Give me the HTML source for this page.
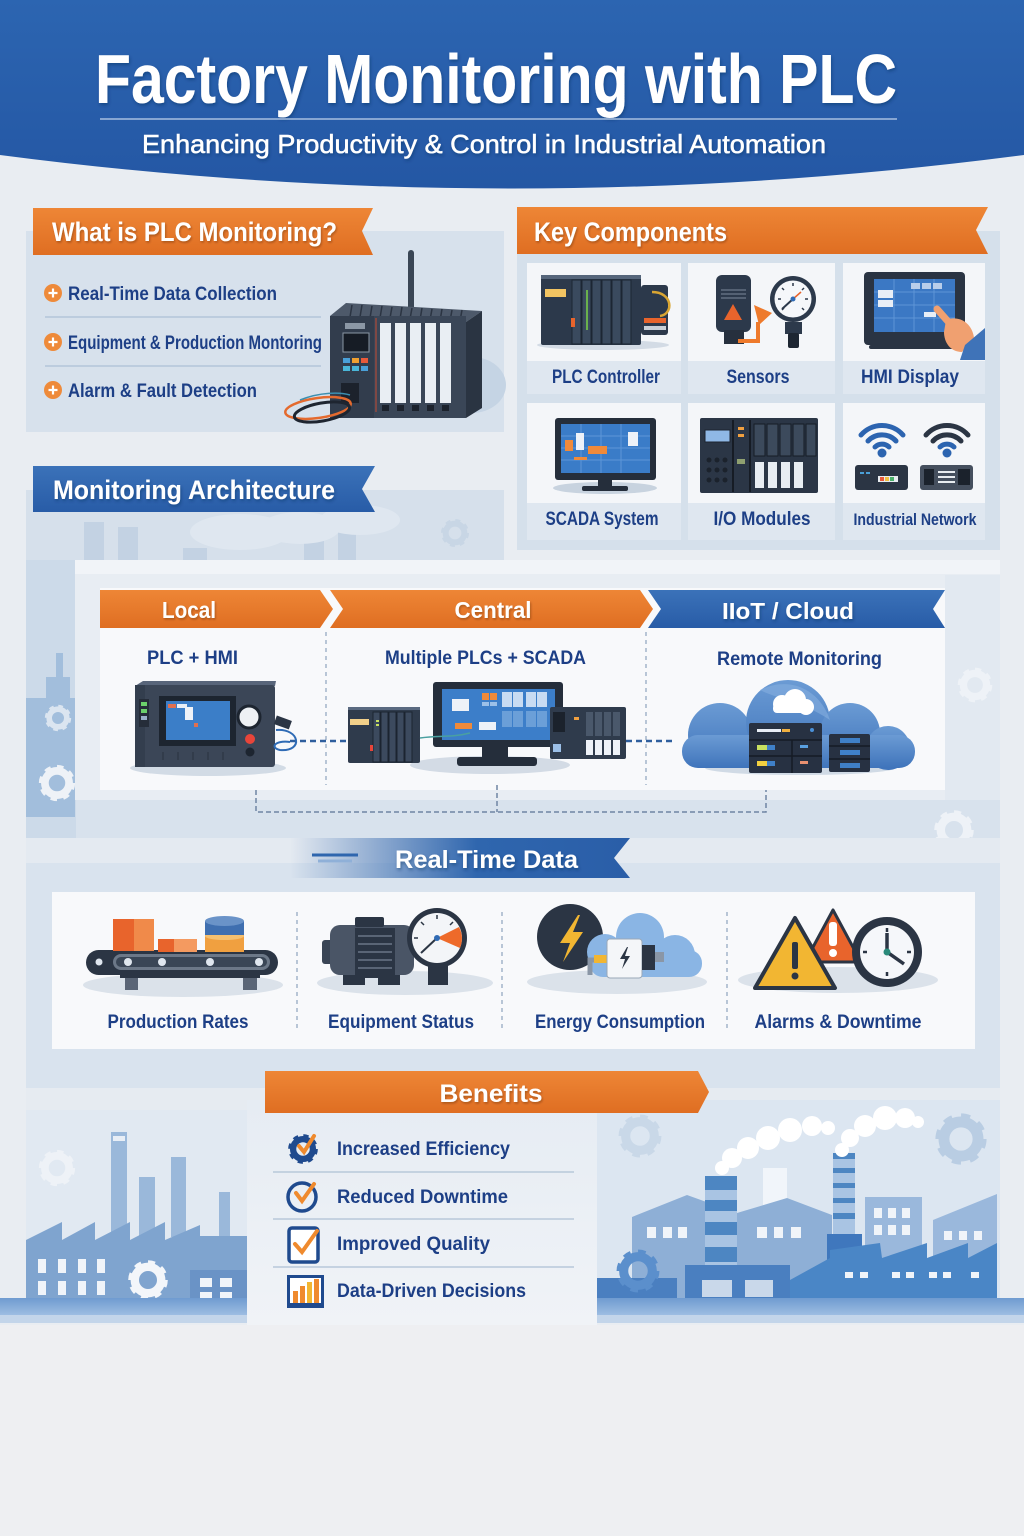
<!DOCTYPE html>
<html><head><meta charset="utf-8"><style>
html,body{margin:0;padding:0;background:#eeeff2;}
svg{display:block;}
text{font-family:"Liberation Sans",sans-serif;font-weight:bold;}
</style></head><body>
<svg width="1024" height="1536" viewBox="0 0 1024 1536" xmlns="http://www.w3.org/2000/svg" xmlns:xlink="http://www.w3.org/1999/xlink">
<defs>
<linearGradient id="hdr" x1="0" y1="0" x2="0" y2="1"><stop offset="0" stop-color="#2c65b1"/><stop offset="1" stop-color="#2457a4"/></linearGradient>
<linearGradient id="org" x1="0" y1="0" x2="0" y2="1"><stop offset="0" stop-color="#ee8636"/><stop offset="1" stop-color="#df6e22"/></linearGradient>
<linearGradient id="blu" x1="0" y1="0" x2="0" y2="1"><stop offset="0" stop-color="#3b72b9"/><stop offset="1" stop-color="#285ca7"/></linearGradient>
<linearGradient id="rtd" x1="0" y1="0" x2="1" y2="0"><stop offset="0" stop-color="#2a5fa8" stop-opacity="0"/><stop offset="0.55" stop-color="#2f66ae"/><stop offset="1" stop-color="#2a5ea8"/></linearGradient>
<linearGradient id="cloudg" x1="0" y1="0" x2="0" y2="1"><stop offset="0" stop-color="#6b9bd4"/><stop offset="1" stop-color="#3f74bb"/></linearGradient>
<linearGradient id="ground" x1="0" y1="0" x2="0" y2="1"><stop offset="0" stop-color="#6f9bd0"/><stop offset="1" stop-color="#9dbde2"/></linearGradient>
<linearGradient id="bpanel" x1="0" y1="0" x2="0" y2="1"><stop offset="0" stop-color="#e6ecf3"/><stop offset="1" stop-color="#f0f3f7"/></linearGradient>
<filter id="ts" x="-5%" y="-20%" width="110%" height="140%"><feDropShadow dx="1" dy="2" stdDeviation="1.5" flood-color="#0b2a5c" flood-opacity=".45"/></filter>
<filter id="ts2" x="-5%" y="-20%" width="110%" height="140%"><feDropShadow dx="1" dy="1.5" stdDeviation="1" flood-color="#3a2000" flood-opacity=".35"/></filter>
<symbol id="gear" viewBox="-20 -20 40 40"><circle r="13" fill="none" stroke="currentColor" stroke-width="7" stroke-dasharray="5.1 5.1"/><circle r="11" fill="none" stroke="currentColor" stroke-width="7"/></symbol>
</defs>

<!-- page background -->
<rect width="1024" height="1536" fill="#e9edf2"/>
<rect y="1325" width="1024" height="211" fill="#eeeff2"/>

<!-- HEADER -->
<path d="M0,0H1024V155Q512,222 0,155Z" fill="url(#hdr)"/>
<text x="95" y="103" font-size="70" fill="#fff" textLength="802" lengthAdjust="spacingAndGlyphs" filter="url(#ts)">Factory Monitoring with PLC</text>
<line x1="100" y1="119" x2="897" y2="119" stroke="#a7bfdf" stroke-width="1.5"/>
<text x="142" y="153" font-size="26" fill="#fff" style="font-weight:normal" stroke="#fff" stroke-width="0.5" textLength="684" lengthAdjust="spacingAndGlyphs" filter="url(#ts)">Enhancing Productivity &amp; Control in Industrial Automation</text>

<!-- SECTION: What is PLC Monitoring -->
<rect x="26" y="231" width="478" height="201" fill="#d7e1ec"/>
<path d="M33,208H373L362,231L373,255H33Z" fill="url(#org)"/>
<text x="52" y="241" font-size="27" fill="#fff" textLength="285" lengthAdjust="spacingAndGlyphs" filter="url(#ts2)">What is PLC Monitoring?</text>
<g fill="#1d3f86" font-size="19">
<text x="68" y="300" textLength="209" lengthAdjust="spacingAndGlyphs">Real-Time Data Collection</text>
<text x="68" y="349" textLength="254" lengthAdjust="spacingAndGlyphs">Equipment &amp; Production Montoring</text>
<text x="68" y="397" textLength="189" lengthAdjust="spacingAndGlyphs">Alarm &amp; Fault Detection</text>
</g>
<g>
<circle cx="53" cy="293" r="9" fill="#ee8a3a"/><path d="M48.5,293h9M53,288.5v9" stroke="#fff" stroke-width="2.2"/>
<circle cx="53" cy="342" r="9" fill="#ee8a3a"/><path d="M48.5,342h9M53,337.5v9" stroke="#fff" stroke-width="2.2"/>
<circle cx="53" cy="390" r="9" fill="#ee8a3a"/><path d="M48.5,390h9M53,385.5v9" stroke="#fff" stroke-width="2.2"/>
</g>
<line x1="45" y1="317" x2="321" y2="317" stroke="#b4c6da" stroke-width="1.5"/>
<line x1="45" y1="366" x2="321" y2="366" stroke="#b4c6da" stroke-width="1.5"/>
<!-- big PLC -->
<ellipse cx="472" cy="385" rx="34" ry="28" fill="#c5d4e4"/>
<rect x="408" y="250" width="6" height="62" rx="3" fill="#3a4655"/>
<polygon points="330,316 346,303 482,311 466,322" fill="#4d596a"/>
<g stroke="#2b3442" stroke-width="1.5">
<line x1="352" y1="305" x2="350" y2="317"/><line x1="362" y1="305" x2="360" y2="317"/><line x1="372" y1="306" x2="370" y2="318"/><line x1="382" y1="306" x2="380" y2="318"/><line x1="392" y1="307" x2="390" y2="318"/><line x1="402" y1="307" x2="400" y2="319"/><line x1="412" y1="308" x2="410" y2="319"/><line x1="422" y1="308" x2="420" y2="320"/><line x1="432" y1="309" x2="430" y2="320"/><line x1="442" y1="309" x2="440" y2="321"/><line x1="452" y1="310" x2="450" y2="321"/><line x1="462" y1="310" x2="460" y2="321"/>
</g>
<rect x="330" y="316" width="136" height="102" fill="#3a4657"/>
<polygon points="466,322 482,311 482,408 466,418" fill="#2a3442"/>
<rect x="330" y="316" width="44" height="102" fill="#323d4d"/>
<rect x="343" y="333" width="26" height="19" fill="#161c25" stroke="#8b97a5" stroke-width="1"/>
<rect x="345" y="323" width="20" height="6" fill="#8b97a5"/>
<g>
<rect x="343" y="358" width="7" height="5" fill="#4aa0d8"/><rect x="352" y="358" width="7" height="5" fill="#f0a030"/><rect x="361" y="358" width="7" height="5" fill="#e85a3a"/>
<rect x="343" y="366" width="7" height="5" fill="#4ab6d8"/><rect x="352" y="366" width="7" height="5" fill="#4ab6d8"/><rect x="361" y="366" width="7" height="5" fill="#4aa0d8"/>
</g>
<rect x="341" y="383" width="18" height="20" fill="#1c222c"/>
<g fill="#e9eef3">
<rect x="380" y="323" width="11" height="80"/><rect x="395" y="323" width="11" height="80"/><rect x="410" y="323" width="11" height="80"/><rect x="425" y="323" width="11" height="80"/><rect x="440" y="323" width="11" height="80"/>
</g>
<g fill="#1c222c">
<rect x="382" y="405" width="7" height="6"/><rect x="397" y="405" width="7" height="6"/><rect x="412" y="405" width="7" height="6"/><rect x="427" y="405" width="7" height="6"/><rect x="442" y="405" width="7" height="6"/>
</g>
<line x1="376" y1="318" x2="376" y2="412" stroke="#c44a30" stroke-width="1"/>
<ellipse cx="318" cy="408" rx="33" ry="10" fill="none" stroke="#e46a2e" stroke-width="2.5" transform="rotate(-8 318 408)"/>
<ellipse cx="322" cy="412" rx="28" ry="9" fill="none" stroke="#1e2530" stroke-width="3" transform="rotate(-10 322 412)"/>
<path d="M300,400 C320,392 340,392 350,395" fill="none" stroke="#3c8fb0" stroke-width="1.5"/>

<!-- SECTION: Key Components -->
<rect x="517" y="231" width="483" height="319" fill="#d5e0eb"/>
<path d="M517,207H988L976,230L988,254H517Z" fill="url(#org)"/>
<text x="534" y="241" font-size="27" fill="#fff" textLength="193" lengthAdjust="spacingAndGlyphs" filter="url(#ts2)">Key Components</text>
<!-- cards -->
<g>
<rect x="527" y="263" width="154" height="131" fill="#f4f6f9"/><rect x="527" y="361" width="154" height="33" fill="#dfe7f0"/>
<rect x="688" y="263" width="147" height="131" fill="#f4f6f9"/><rect x="688" y="361" width="147" height="33" fill="#dfe7f0"/>
<rect x="843" y="263" width="142" height="131" fill="#f4f6f9"/><rect x="843" y="361" width="142" height="33" fill="#dfe7f0"/>
<rect x="527" y="403" width="154" height="137" fill="#f4f6f9"/><rect x="527" y="503" width="154" height="37" fill="#dfe7f0"/>
<rect x="688" y="403" width="147" height="137" fill="#f4f6f9"/><rect x="688" y="503" width="147" height="37" fill="#dfe7f0"/>
<rect x="843" y="403" width="142" height="137" fill="#f4f6f9"/><rect x="843" y="503" width="142" height="37" fill="#dfe7f0"/>
</g>
<g fill="#1d3f86" font-size="19" text-anchor="middle">
<text x="606" y="383" textLength="108" lengthAdjust="spacingAndGlyphs">PLC Controller</text>
<text x="758" y="383" textLength="63" lengthAdjust="spacingAndGlyphs">Sensors</text>
<text x="910" y="383" textLength="98" lengthAdjust="spacingAndGlyphs">HMI Display</text>
<text x="602" y="525" textLength="113" lengthAdjust="spacingAndGlyphs">SCADA System</text>
<text x="762" y="525" textLength="97" lengthAdjust="spacingAndGlyphs">I/O Modules</text>
<text x="915" y="525" font-size="17" textLength="123" lengthAdjust="spacingAndGlyphs">Industrial Network</text>
</g>
<!-- PLC controller icon -->
<ellipse cx="603" cy="345" rx="66" ry="5" fill="#d3dbe5"/>
<rect x="541" y="275" width="100" height="70" rx="2" fill="#2c394b"/>
<rect x="541" y="275" width="100" height="4" fill="#56667b"/>
<rect x="545" y="289" width="21" height="8" fill="#f2c462"/>
<g fill="#3a4a5e" stroke="#1c2633" stroke-width="1">
<rect x="572" y="280" width="9" height="64"/><rect x="582" y="280" width="9" height="64"/><rect x="592" y="280" width="9" height="64"/><rect x="602" y="280" width="9" height="64"/><rect x="612" y="280" width="9" height="64"/><rect x="622" y="280" width="9" height="64"/>
</g>
<rect x="586" y="290" width="2" height="40" fill="#6ab04c"/>
<rect x="571" y="318" width="4" height="9" fill="#e8642c"/>
<rect x="641" y="285" width="27" height="50" rx="3" fill="#2c394b"/>
<rect x="644" y="318" width="22" height="5" fill="#e8642c"/><rect x="644" y="326" width="22" height="4" fill="#c9d0d8"/>
<path d="M652,292 C673,292 674,314 660,316" fill="none" stroke="#d9a532" stroke-width="2.5"/>
<!-- Sensors icon -->
<rect x="716" y="275" width="35" height="57" rx="6" fill="#2c394b"/>
<rect x="724" y="330" width="20" height="14" fill="#26303e"/>
<g stroke="#6c7a8b" stroke-width="1.2"><line x1="721" y1="290" x2="746" y2="290"/><line x1="721" y1="294" x2="746" y2="294"/><line x1="721" y1="298" x2="746" y2="298"/></g>
<polygon points="733,304 742,320 724,320" fill="#e8642c"/>
<path d="M738,341 H758 V322" fill="none" stroke="#ee7a2c" stroke-width="4"/>
<polygon points="754,305 772,313 759,325" fill="#ee7a2c"/>
<circle cx="793" cy="299" r="23" fill="#2c394b"/>
<circle cx="793" cy="299" r="18.5" fill="#f5f7fa"/>
<g stroke="#2c394b" stroke-width="1.5"><line x1="793" y1="283" x2="793" y2="286"/><line x1="808" y1="299" x2="805" y2="299"/><line x1="778" y1="299" x2="781" y2="299"/><line x1="804" y1="288" x2="802" y2="290"/><line x1="782" y1="288" x2="784" y2="290"/><line x1="804" y1="310" x2="802" y2="308"/><line x1="782" y1="310" x2="784" y2="308"/></g>
<line x1="793" y1="299" x2="782" y2="309" stroke="#2c394b" stroke-width="2"/>
<line x1="793" y1="299" x2="801" y2="292" stroke="#e8642c" stroke-width="1.5"/>
<circle cx="793" cy="299" r="2.5" fill="#2f6bb5"/>
<rect x="785" y="322" width="17" height="12" fill="#2c394b"/>
<rect x="788" y="333" width="11" height="15" rx="2" fill="#1d2632"/>
<!-- HMI icon -->
<rect x="864" y="272" width="101" height="73" rx="4" fill="#2a3443"/>
<rect x="874" y="279" width="81" height="53" fill="#3b78c4"/>
<g stroke="#5e95d6" stroke-width="1"><line x1="874" y1="292" x2="955" y2="292"/><line x1="874" y1="305" x2="955" y2="305"/><line x1="874" y1="318" x2="955" y2="318"/><line x1="894" y1="279" x2="894" y2="332"/><line x1="914" y1="279" x2="914" y2="332"/><line x1="934" y1="279" x2="934" y2="332"/></g>
<rect x="878" y="290" width="15" height="8" fill="#e8eef6"/><rect x="878" y="300" width="15" height="7" fill="#e8eef6"/>
<rect x="911" y="283" width="9" height="6" fill="#b8cdea"/><rect x="922" y="283" width="9" height="6" fill="#b8cdea"/><rect x="933" y="283" width="9" height="6" fill="#b8cdea"/>
<rect x="924" y="312" width="12" height="5" fill="#e8eef6"/>
<rect x="869" y="345" width="90" height="4" rx="2" fill="#2a3443"/>
<path d="M937,309 L952,326" stroke="#f0a070" stroke-width="7" stroke-linecap="round"/>
<path d="M946,320 C958,315 972,322 974,338 L962,352 C950,352 944,342 944,332Z" fill="#f0a070"/>
<polygon points="965,345 985,328 985,360 960,360" fill="#3f73b8"/>
<!-- SCADA icon -->
<ellipse cx="605" cy="488" rx="52" ry="6" fill="#c8d3df"/>
<rect x="555" y="418" width="101" height="62" rx="3" fill="#252e3b"/>
<rect x="561" y="424" width="89" height="49" fill="#3a7cc8"/>
<g stroke="#5d96d8" stroke-width="1"><line x1="561" y1="436" x2="650" y2="436"/><line x1="561" y1="448" x2="650" y2="448"/><line x1="561" y1="460" x2="650" y2="460"/><line x1="581" y1="424" x2="581" y2="473"/><line x1="601" y1="424" x2="601" y2="473"/><line x1="621" y1="424" x2="621" y2="473"/></g>
<rect x="565" y="440" width="8" height="11" fill="#f08a3a"/><rect x="576" y="433" width="8" height="17" fill="#eef2f8"/><rect x="588" y="446" width="19" height="8" fill="#f08a3a"/><rect x="574" y="457" width="13" height="3" fill="#f08a3a"/><rect x="628" y="432" width="10" height="14" fill="#eef2f8"/>
<rect x="598" y="480" width="14" height="6" fill="#252e3b"/>
<rect x="582" y="486" width="46" height="5" rx="2" fill="#252e3b"/>
<!-- I/O modules icon -->
<rect x="700" y="418" width="118" height="75" rx="2" fill="#2b3646"/>
<rect x="705" y="430" width="25" height="12" fill="#8fb8e6" stroke="#1c2430"/>
<g fill="#1b222c"><circle cx="709" cy="460" r="2.5"/><circle cx="717" cy="460" r="2.5"/><circle cx="725" cy="460" r="2.5"/><circle cx="709" cy="470" r="2.5"/><circle cx="717" cy="470" r="2.5"/><circle cx="725" cy="470" r="2.5"/><circle cx="709" cy="480" r="2.5"/><circle cx="717" cy="480" r="2.5"/><circle cx="725" cy="480" r="2.5"/></g>
<line x1="733" y1="420" x2="733" y2="492" stroke="#161c25" stroke-width="2"/>
<rect x="738" y="427" width="6" height="3" fill="#f0a040"/><rect x="738" y="434" width="6" height="3" fill="#f0a040"/><rect x="737" y="459" width="8" height="5" fill="#8fa070"/>
<line x1="750" y1="420" x2="750" y2="492" stroke="#161c25" stroke-width="2"/>
<g fill="#3c4a5c" stroke="#161c25" stroke-width="1"><rect x="754" y="424" width="11" height="32"/><rect x="767" y="424" width="11" height="32"/><rect x="780" y="424" width="11" height="32"/><rect x="793" y="424" width="11" height="32"/><rect x="806" y="424" width="10" height="32"/></g>
<g fill="#e8edf2"><rect x="755" y="462" width="9" height="26"/><rect x="768" y="462" width="9" height="26"/><rect x="781" y="462" width="9" height="26"/><rect x="794" y="462" width="9" height="26"/></g>
<!-- network icon -->
<g fill="none" stroke-linecap="round" stroke-width="5">
<path d="M875,447 A10,10 0 0 1 889,447" stroke="#2c64b0"/>
<path d="M868,441 A19,19 0 0 1 896,441" stroke="#2c64b0"/>
<path d="M861,435 A28,28 0 0 1 903,435" stroke="#2c64b0"/>
<path d="M940,447 A10,10 0 0 1 954,447" stroke="#2c64b0"/>
<path d="M933,441 A19,19 0 0 1 961,441" stroke="#2b3544"/>
<path d="M926,435 A28,28 0 0 1 968,435" stroke="#2b3544"/>
</g>
<circle cx="882" cy="453" r="4.5" fill="#2c64b0"/><circle cx="947" cy="453" r="4.5" fill="#2c64b0"/>
<rect x="855" y="465" width="53" height="25" rx="3" fill="#2b3544"/>
<rect x="878" y="476" width="20" height="6" fill="#e8ecf0"/><rect x="880" y="477" width="4" height="4" fill="#e85a3a"/><rect x="885" y="477" width="4" height="4" fill="#f0c040"/><rect x="890" y="477" width="4" height="4" fill="#4ab06a"/>
<rect x="860" y="472" width="4" height="2" fill="#4aa0d8"/><rect x="866" y="472" width="4" height="2" fill="#4aa0d8"/>
<rect x="920" y="465" width="53" height="25" rx="3" fill="#454f5e"/>
<rect x="924" y="469" width="10" height="16" fill="#1b222c"/>
<g stroke="#e8ecf0" stroke-width="2"><line x1="938" y1="472" x2="955" y2="472"/><line x1="938" y1="477" x2="955" y2="477"/><line x1="938" y1="482" x2="955" y2="482"/></g>
<rect x="958" y="469" width="12" height="16" fill="#1b222c"/>

<!-- SECTION: Monitoring Architecture -->
<rect x="26" y="490" width="478" height="70" fill="#d6e0eb"/>
<g fill="#c3d2e3">
<rect x="84" y="522" width="20" height="38"/><rect x="118" y="527" width="20" height="33"/>
<rect x="304" y="522" width="20" height="38"/><rect x="338" y="527" width="18" height="33"/>
<rect x="183" y="548" width="24" height="12"/>
</g>
<g fill="#dfe7f0"><ellipse cx="240" cy="532" rx="50" ry="18"/><ellipse cx="300" cy="528" rx="40" ry="16"/><ellipse cx="360" cy="520" rx="40" ry="15"/></g>
<use xlink:href="#gear" x="438" y="516" width="34" height="34" style="color:#c8d6e5"/>
<path d="M33,466H375L362,489L375,512H33Z" fill="url(#blu)"/>
<text x="53" y="499" font-size="27" fill="#fff" textLength="282" lengthAdjust="spacingAndGlyphs" filter="url(#ts)">Monitoring Architecture</text>

<!-- Architecture block -->
<rect x="26" y="560" width="974" height="292" fill="#d8e2ed"/>
<rect x="26" y="560" width="50" height="290" fill="#ccdae9"/>
<path d="M26,698 H46 V677 H56 V653 H63 V677 H70 V698 H75 V817 H26Z" fill="#a2bedc"/>
<use xlink:href="#gear" x="42" y="702" width="32" height="32" style="color:#dbe5f0"/>
<use xlink:href="#gear" x="35" y="761" width="44" height="44" style="color:#eef2f7"/>
<rect x="75" y="560" width="925" height="240" fill="#e8edf3"/>
<rect x="75" y="560" width="925" height="14" fill="#f1f4f8"/>
<rect x="100" y="588" width="845" height="202" fill="#f8f9fb"/>
<rect x="945" y="575" width="55" height="225" fill="#e2e9f1"/>
<use xlink:href="#gear" x="954" y="664" width="42" height="42" style="color:#eef2f7"/>
<use xlink:href="#gear" x="930" y="806" width="48" height="48" style="color:#eef2f7"/>
<path d="M100,590H320L333,609L320,628H100Z" fill="url(#org)"/>
<path d="M330,590H640L653,609L640,628H330L343,609Z" fill="url(#org)"/>
<path d="M648,590H945L933,609L945,628H648L661,609Z" fill="url(#blu)"/>
<g font-size="23" fill="#fff" text-anchor="middle">
<text x="189" y="618" textLength="54" lengthAdjust="spacingAndGlyphs" filter="url(#ts2)">Local</text>
<text x="493" y="618" textLength="77" lengthAdjust="spacingAndGlyphs" filter="url(#ts2)">Central</text>
<text x="788" y="619" textLength="132" lengthAdjust="spacingAndGlyphs" filter="url(#ts)">IIoT / Cloud</text>
</g>
<g font-size="19" fill="#1d3f86">
<text x="147" y="664" textLength="91" lengthAdjust="spacingAndGlyphs">PLC + HMI</text>
<text x="385" y="664" textLength="201" lengthAdjust="spacingAndGlyphs">Multiple PLCs + SCADA</text>
<text x="717" y="665" textLength="165" lengthAdjust="spacingAndGlyphs">Remote Monitoring</text>
</g>
<g stroke="#8ea3bd" stroke-width="1.2" stroke-dasharray="4 4" fill="none">
<line x1="326" y1="632" x2="326" y2="785"/>
<line x1="646" y1="632" x2="646" y2="785"/>
</g>
<g stroke="#6f85a3" stroke-width="1.5" stroke-dasharray="5 3" fill="none">
<path d="M256,790 V812 H766 V790"/>
<line x1="497" y1="785" x2="497" y2="812"/>
</g>
<g stroke="#2f5f9e" stroke-width="2.5" stroke-dasharray="6 4">
<line x1="290" y1="741" x2="347" y2="741"/>
<line x1="626" y1="741" x2="676" y2="741"/>
</g>
<!-- local HMI device -->
<ellipse cx="208" cy="768" rx="78" ry="8" fill="#d2dbe5"/>
<polygon points="135,686 143,681 276,681 275,686" fill="#58657a"/>
<rect x="135" y="685" width="140" height="82" rx="3" fill="#3b4657"/>
<rect x="135" y="685" width="10" height="82" fill="#333e4e"/>
<rect x="139" y="699" width="10" height="28" fill="#252d39"/>
<rect x="141" y="702" width="6" height="4" fill="#6bd06b"/><rect x="141" y="709" width="6" height="4" fill="#6bd06b"/><rect x="141" y="716" width="6" height="4" fill="#9ab0c8"/>
<rect x="159" y="696" width="77" height="50" fill="#1d2530"/>
<rect x="166" y="701" width="64" height="39" fill="#3b7ec8"/>
<rect x="168" y="704" width="8" height="4" fill="#e07050"/><rect x="177" y="704" width="10" height="4" fill="#e8eef6"/><rect x="185" y="707" width="8" height="13" fill="#eef2f8"/><rect x="194" y="723" width="4" height="4" fill="#e07050"/>
<g stroke="#2a323f" stroke-width="1"><line x1="163" y1="752" x2="163" y2="760"/><line x1="178" y1="752" x2="178" y2="760"/><line x1="193" y1="752" x2="193" y2="760"/><line x1="208" y1="752" x2="208" y2="760"/><line x1="223" y1="752" x2="223" y2="760"/></g>
<circle cx="249" cy="717" r="11" fill="#eef1f4" stroke="#1d2530" stroke-width="3"/>
<circle cx="250" cy="739" r="5" fill="#e8453a"/>
<circle cx="250" cy="752" r="4.5" fill="#1d2530"/>
<rect x="275" y="718" width="16" height="9" fill="#2b3544" transform="rotate(20 283 722)"/>
<path d="M276,730 C300,728 304,752 280,750 C270,748 274,740 290,742" fill="none" stroke="#2f6bb5" stroke-width="2"/>
<!-- central PLCs -->
<ellipse cx="490" cy="765" rx="80" ry="9" fill="#d3dbe5"/>
<rect x="348" y="707" width="72" height="56" rx="2" fill="#2f3b4c"/>
<rect x="348" y="707" width="72" height="3" fill="#5a6a80"/>
<rect x="350" y="719" width="19" height="6" fill="#f2d08a"/>
<g fill="#3c4a5e" stroke="#1b2430" stroke-width="1"><rect x="373" y="712" width="7" height="50"/><rect x="381" y="712" width="7" height="50"/><rect x="389" y="712" width="7" height="50"/><rect x="397" y="712" width="7" height="50"/><rect x="405" y="712" width="7" height="50"/></g>
<rect x="376" y="720" width="3" height="2" fill="#c8e060"/><rect x="376" y="724" width="3" height="2" fill="#c8e060"/>
<rect x="370" y="745" width="3" height="6" fill="#e8453a"/>
<rect x="433" y="682" width="130" height="65" rx="3" fill="#252e3b"/>
<rect x="442" y="689" width="113" height="51" fill="#3c7ec9"/>
<rect x="452" y="699" width="17" height="12" fill="#eef2f8"/>
<rect x="482" y="693" width="7" height="7" fill="#f08a3a"/><rect x="490" y="693" width="7" height="7" fill="#f08a3a"/>
<rect x="482" y="702" width="7" height="4" fill="#9cc0e8"/><rect x="490" y="702" width="7" height="4" fill="#9cc0e8"/>
<rect x="502" y="692" width="10" height="15" fill="#c8dbf2"/><rect x="513" y="692" width="10" height="15" fill="#c8dbf2"/><rect x="526" y="692" width="10" height="15" fill="#c8dbf2"/><rect x="537" y="692" width="10" height="15" fill="#c8dbf2"/>
<rect x="502" y="711" width="10" height="16" fill="#6b9fd8"/><rect x="513" y="711" width="10" height="16" fill="#6b9fd8"/><rect x="526" y="711" width="10" height="16" fill="#6b9fd8"/><rect x="537" y="711" width="10" height="16" fill="#6b9fd8"/>
<rect x="455" y="723" width="17" height="6" fill="#f08a3a"/><rect x="479" y="722" width="17" height="8" fill="#eef2f8"/>
<rect x="482" y="747" width="26" height="12" fill="#252e3b"/>
<rect x="457" y="757" width="80" height="9" rx="3" fill="#252e3b"/>
<rect x="550" y="707" width="76" height="52" rx="2" fill="#2f3b4c"/>
<rect x="553" y="712" width="12" height="20" fill="#1b222c"/>
<rect x="553" y="744" width="8" height="8" fill="#9cc0e8"/>
<rect x="574" y="717" width="5" height="3" fill="#f0a040"/>
<g fill="#eef2f8"><rect x="586" y="740" width="7" height="15"/><rect x="595" y="740" width="7" height="15"/><rect x="604" y="740" width="7" height="15"/><rect x="613" y="740" width="7" height="15"/></g>
<g fill="#4a586b"><rect x="586" y="712" width="7" height="24"/><rect x="595" y="712" width="7" height="24"/><rect x="604" y="712" width="7" height="24"/><rect x="613" y="712" width="7" height="24"/></g>
<path d="M420,738 C440,735 450,738 470,733" fill="none" stroke="#4aa0a0" stroke-width="1.5"/>
<!-- cloud -->
<ellipse cx="800" cy="768" rx="95" ry="7" fill="#d0dae5"/>
<g fill="url(#cloudg)">
<circle cx="720" cy="735" r="32"/><circle cx="788" cy="722" r="42"/><circle cx="850" cy="733" r="30"/><circle cx="888" cy="748" r="22"/>
<rect x="682" y="735" width="233" height="33" rx="16"/>
</g>
<path d="M760,690 C790,675 820,690 830,720 C800,700 780,700 760,690Z" fill="#86afe0" opacity=".6"/>
<g fill="#fff"><circle cx="782" cy="704" r="9"/><circle cx="795" cy="700" r="11"/><circle cx="806" cy="707" r="8"/><rect x="773" y="704" width="40" height="9" rx="4"/></g>
<rect x="749" y="723" width="73" height="50" rx="2" fill="#273142"/>
<line x1="749" y1="740" x2="822" y2="740" stroke="#151b24" stroke-width="1.5"/><line x1="749" y1="756" x2="822" y2="756" stroke="#151b24" stroke-width="1.5"/><line x1="792" y1="740" x2="792" y2="773" stroke="#151b24" stroke-width="1.5"/>
<rect x="757" y="729" width="24" height="3" fill="#e8eef6"/><rect x="782" y="729" width="8" height="3" fill="#f0b040"/><circle cx="812" cy="730" r="2" fill="#4a90d8"/>
<rect x="757" y="745" width="10" height="5" fill="#c8e060"/><rect x="767" y="745" width="8" height="5" fill="#3f80c8"/><rect x="800" y="745" width="8" height="3" fill="#5aa0e0"/>
<rect x="757" y="761" width="10" height="5" fill="#f2d040"/><rect x="767" y="761" width="8" height="5" fill="#3f80c8"/><rect x="800" y="761" width="8" height="3" fill="#e89070"/>
<rect x="829" y="734" width="41" height="38" rx="2" fill="#273142"/>
<line x1="829" y1="746" x2="870" y2="746" stroke="#151b24" stroke-width="1.5"/><line x1="829" y1="759" x2="870" y2="759" stroke="#151b24" stroke-width="1.5"/>
<rect x="840" y="738" width="20" height="5" fill="#3f80c8"/><rect x="840" y="750" width="20" height="5" fill="#3f80c8"/><rect x="840" y="763" width="20" height="5" fill="#3f80c8"/>

<!-- Real-Time Data -->
<rect x="26" y="863" width="974" height="225" fill="#d9e3ee"/>
<rect x="26" y="838" width="974" height="25" fill="#e4eaf1"/>
<path d="M290,838H630L614,858L630,878H290Z" fill="url(#rtd)"/>
<g stroke="#2f66ae" stroke-width="3"><line x1="312" y1="855" x2="358" y2="855"/><line x1="318" y1="861" x2="352" y2="861" stroke="#8fb0d8"/></g>
<text x="395" y="868" font-size="25" fill="#fff" textLength="183" lengthAdjust="spacingAndGlyphs" filter="url(#ts)">Real-Time Data</text>
<rect x="52" y="892" width="923" height="157" fill="#f8f9fb"/>
<g stroke="#8ea3bd" stroke-width="1.2" stroke-dasharray="4 4">
<line x1="297" y1="912" x2="297" y2="1032"/><line x1="502" y1="912" x2="502" y2="1032"/><line x1="727" y1="912" x2="727" y2="1032"/>
</g>
<g font-size="19" fill="#1d3f86" text-anchor="middle">
<text x="178" y="1028" textLength="141" lengthAdjust="spacingAndGlyphs">Production Rates</text>
<text x="401" y="1028" textLength="146" lengthAdjust="spacingAndGlyphs">Equipment Status</text>
<text x="620" y="1028" textLength="170" lengthAdjust="spacingAndGlyphs">Energy Consumption</text>
<text x="838" y="1028" textLength="167" lengthAdjust="spacingAndGlyphs">Alarms &amp; Downtime</text>
</g>
<!-- conveyor -->
<ellipse cx="183" cy="985" rx="100" ry="12" fill="#dbe2ea"/>
<rect x="125" y="970" width="13" height="20" fill="#5a6576"/><rect x="243" y="970" width="14" height="20" fill="#5a6576"/>
<rect x="120" y="972" width="140" height="6" fill="#2b3544"/>
<rect x="86" y="950" width="192" height="25" rx="12.5" fill="#2b3544"/>
<rect x="113" y="954" width="157" height="16" rx="8" fill="#6c7888"/>
<rect x="116" y="957" width="151" height="10" rx="5" fill="#3a4656"/>
<g fill="#dfe6ee"><circle cx="99" cy="962" r="3.5"/><circle cx="128" cy="962" r="4"/><circle cx="162" cy="962" r="4"/><circle cx="210" cy="962" r="4"/><circle cx="259" cy="962" r="4"/></g>
<rect x="113" y="919" width="41" height="32" fill="#e8642c"/><rect x="134" y="919" width="20" height="32" fill="#f08a4a"/>
<rect x="158" y="939" width="39" height="13" fill="#e8642c"/><rect x="174" y="939" width="23" height="13" fill="#f49a60"/>
<rect x="205" y="935" width="39" height="17" fill="#f0a040"/>
<ellipse cx="224.5" cy="936" rx="19.5" ry="4" fill="#f5c070"/>
<rect x="205" y="921" width="39" height="14" fill="#3f6fb0"/>
<ellipse cx="224.5" cy="921" rx="19.5" ry="5" fill="#6a93c8"/>
<!-- motor -->
<ellipse cx="405" cy="983" rx="88" ry="12" fill="#dbe2ea"/>
<rect x="322" y="940" width="12" height="24" rx="3" fill="#3a4555"/>
<rect x="330" y="925" width="84" height="50" rx="10" fill="#4a5566"/>
<rect x="355" y="917" width="29" height="10" rx="2" fill="#2b3544"/>
<rect x="355" y="928" width="40" height="50" fill="#2b3544"/>
<g stroke="#5a6576" stroke-width="2"><line x1="358" y1="936" x2="392" y2="936"/><line x1="358" y1="944" x2="392" y2="944"/><line x1="358" y1="952" x2="392" y2="952"/><line x1="358" y1="960" x2="392" y2="960"/><line x1="358" y1="968" x2="392" y2="968"/></g>
<rect x="343" y="975" width="22" height="10" fill="#2b3544"/><rect x="378" y="975" width="22" height="10" fill="#2b3544"/>
<rect x="428" y="964" width="20" height="21" fill="#2b3544"/>
<circle cx="437" cy="938" r="30" fill="#2b3544"/>
<circle cx="437" cy="938" r="25" fill="#f3f5f8"/>
<path d="M437,938 L459,927 A25,25 0 0 1 460,948Z" fill="#ee6a2a"/>
<line x1="437" y1="938" x2="421" y2="953" stroke="#2b3544" stroke-width="2"/>
<circle cx="437" cy="938" r="3" fill="#2f6bb5"/>
<g stroke="#2b3544" stroke-width="1.5"><line x1="437" y1="915" x2="437" y2="919"/><line x1="414" y1="938" x2="418" y2="938"/><line x1="421" y1="922" x2="424" y2="925"/><line x1="453" y1="922" x2="450" y2="925"/></g>
<!-- energy -->
<ellipse cx="617" cy="982" rx="90" ry="12" fill="#dbe2ea"/>
<circle cx="570" cy="937" r="33" fill="#2b3544"/>
<polygon points="578,915 560,943 570,943 563,962 583,932 573,932 580,915" fill="#f2b632"/>
<g fill="#8ab5e4"><circle cx="640" cy="937" r="24"/><circle cx="675" cy="955" r="20"/><circle cx="605" cy="952" r="18"/><rect x="590" y="950" width="112" height="27" rx="13"/></g>
<path d="M590,975 V960 H608" fill="none" stroke="#8a96a6" stroke-width="5"/>
<rect x="594" y="955" width="14" height="8" fill="#f2b632"/>
<rect x="607" y="939" width="35" height="39" rx="3" fill="#f4f6f9" stroke="#9aa8b8" stroke-width="1"/>
<polygon points="627,947 620,959 625,959 622,969 630,956 625,956 628,947" fill="#2b3544"/>
<rect x="642" y="945" width="13" height="25" fill="#2b3544"/>
<rect x="655" y="952" width="9" height="10" fill="#8a96a6"/>
<!-- alarms -->
<ellipse cx="838" cy="980" rx="100" ry="13" fill="#dbe2ea"/>
<polygon points="833,910 861,962 805,962" fill="#e8642c" stroke="#2b3544" stroke-width="3" stroke-linejoin="round"/>
<rect x="829" y="922" width="8" height="24" rx="3" fill="#fff"/><circle cx="833" cy="953" r="4" fill="#fff"/>
<polygon points="795,918 835,988 755,988" fill="#f2b632" stroke="#2b3544" stroke-width="4" stroke-linejoin="round"/>
<rect x="792" y="942" width="6" height="27" rx="2" fill="#2b3544"/><circle cx="795" cy="976" r="3.5" fill="#2b3544"/>
<circle cx="887" cy="952" r="35" fill="#2b3544"/>
<circle cx="887" cy="952" r="27" fill="#f5f7fa"/>
<g stroke="#2b3544" stroke-width="2.5"><line x1="887" y1="928" x2="887" y2="932"/><line x1="887" y1="972" x2="887" y2="976"/><line x1="863" y1="952" x2="867" y2="952"/><line x1="907" y1="952" x2="911" y2="952"/></g>
<line x1="887" y1="952" x2="887" y2="933" stroke="#2b3544" stroke-width="3.5"/>
<line x1="887" y1="952" x2="904" y2="964" stroke="#2b3544" stroke-width="3.5"/>
<circle cx="887" cy="952" r="3.5" fill="#2a8a7a"/>

<!-- BENEFITS area -->
<rect x="26" y="1088" width="974" height="22" fill="#e6ebf1"/>
<!-- left factory -->
<rect x="26" y="1110" width="221" height="200" fill="#e1e9f2"/>
<use xlink:href="#gear" x="35" y="1146" width="44" height="44" style="color:#eef2f7"/>
<g fill="#9ab8da">
<rect x="111" y="1132" width="16" height="100"/><rect x="139" y="1177" width="16" height="60"/><rect x="171" y="1157" width="15" height="80"/><rect x="219" y="1192" width="11" height="45"/>
</g>
<rect x="113" y="1136" width="12" height="5" fill="#e8eef6"/>
<path d="M26,1310 V1240 L62,1222 V1240 L95,1222 V1240 L130,1222 V1240 L165,1222 V1240 L200,1225 V1236 H247 V1310Z" fill="#7fa4cf"/>
<rect x="190" y="1270" width="57" height="40" fill="#6a93c6"/>
<g fill="#f0f4f9">
<rect x="38" y="1259" width="8" height="14"/><rect x="58" y="1259" width="8" height="14"/><rect x="78" y="1259" width="8" height="14"/><rect x="97" y="1259" width="8" height="14"/>
<rect x="38" y="1281" width="8" height="14"/><rect x="58" y="1281" width="8" height="14"/><rect x="78" y="1281" width="8" height="14"/><rect x="97" y="1281" width="8" height="14"/>
<rect x="200" y="1278" width="12" height="9"/><rect x="220" y="1278" width="12" height="9"/><rect x="200" y="1292" width="12" height="9"/><rect x="220" y="1292" width="12" height="9"/>
</g>
<use xlink:href="#gear" x="124" y="1256" width="48" height="48" style="color:#f3f6fa"/>
<!-- right factory -->
<rect x="597" y="1100" width="403" height="200" fill="#dce6f1"/>
<use xlink:href="#gear" x="614" y="1110" width="52" height="52" style="color:#c9d8e8"/>
<use xlink:href="#gear" x="930" y="1108" width="62" height="62" style="color:#b9cde3"/>
<rect x="763" y="1168" width="24" height="40" fill="#f1f5fa"/>
<path d="M632,1298 V1217 L687,1195 L737,1213 L787,1198 L832,1215 V1298Z" fill="#8eafd6"/>
<rect x="865" y="1197" width="57" height="101" fill="#9ab8dc"/>
<path d="M933,1298 V1220 L997,1194 V1298Z" fill="#9ab8dc"/>
<rect x="705" y="1176" width="32" height="122" fill="#a9c4e3"/>
<g fill="#4d86c2"><rect x="705" y="1176" width="32" height="14"/><rect x="705" y="1200" width="32" height="11"/><rect x="705" y="1222" width="32" height="13"/><rect x="705" y="1247" width="32" height="15"/></g>
<rect x="833" y="1153" width="22" height="85" fill="#a9c4e3"/>
<g fill="#4d86c2"><rect x="833" y="1153" width="22" height="6"/><rect x="833" y="1168" width="22" height="5"/><rect x="833" y="1183" width="22" height="5"/><rect x="833" y="1198" width="22" height="5"/><rect x="833" y="1213" width="22" height="6"/></g>
<g fill="#fff">
<circle cx="722" cy="1168" r="7"/><circle cx="732" cy="1158" r="10"/><circle cx="748" cy="1148" r="11"/><circle cx="768" cy="1138" r="12"/><circle cx="790" cy="1130" r="12"/><circle cx="812" cy="1126" r="10"/><circle cx="828" cy="1128" r="7"/>
<circle cx="842" cy="1150" r="7"/><circle cx="850" cy="1138" r="9"/><circle cx="865" cy="1126" r="11"/><circle cx="885" cy="1118" r="12"/><circle cx="905" cy="1118" r="10"/><circle cx="918" cy="1122" r="6"/>
</g>
<g fill="#f0f4f9">
<rect x="647" y="1227" width="9" height="11"/><rect x="663" y="1227" width="9" height="11"/><rect x="678" y="1227" width="9" height="11"/>
<rect x="757" y="1227" width="10" height="11"/><rect x="774" y="1227" width="9" height="11"/><rect x="791" y="1227" width="10" height="11"/>
<rect x="874" y="1208" width="8" height="10"/><rect x="888" y="1208" width="8" height="10"/><rect x="902" y="1208" width="8" height="10"/>
<rect x="874" y="1225" width="8" height="10"/><rect x="888" y="1225" width="8" height="10"/><rect x="902" y="1225" width="8" height="10"/>
<rect x="944" y="1231" width="8" height="9"/><rect x="959" y="1231" width="8" height="9"/><rect x="974" y="1231" width="8" height="9"/>
</g>
<rect x="827" y="1234" width="35" height="64" fill="#3f77bd"/>
<path d="M790,1298 V1280 L830,1258 V1250 L880,1243 L882,1258 L927,1243 V1258 L968,1243 V1258 L997,1243 V1298Z" fill="#4a86c6"/>
<rect x="685" y="1265" width="105" height="33" fill="#4a7fc0"/>
<rect x="702" y="1280" width="30" height="17" fill="#c9d8ea"/><rect x="745" y="1280" width="28" height="17" fill="#c9d8ea"/>
<rect x="597" y="1278" width="80" height="20" fill="#4a7fc0"/>
<use xlink:href="#gear" x="612" y="1245" width="52" height="52" style="color:#5b8fcc"/>
<g fill="#f0f4f9"><rect x="845" y="1272" width="8" height="6"/><rect x="860" y="1272" width="8" height="6"/><rect x="892" y="1272" width="8" height="6"/><rect x="906" y="1272" width="8" height="6"/><rect x="929" y="1272" width="8" height="6"/><rect x="943" y="1272" width="8" height="6"/><rect x="971" y="1272" width="8" height="6"/></g>
<!-- ground strip -->
<rect x="0" y="1298" width="1024" height="17" fill="url(#ground)"/>
<rect x="0" y="1315" width="1024" height="8" fill="#c3d5ea"/>
<!-- benefits panel -->
<rect x="247" y="1100" width="350" height="225" fill="url(#bpanel)"/>
<path d="M265,1071H698L709,1092L698,1113H265Z" fill="url(#org)"/>
<text x="491" y="1102" font-size="25" fill="#fff" text-anchor="middle" textLength="103" lengthAdjust="spacingAndGlyphs" filter="url(#ts2)">Benefits</text>
<g stroke="#b8c8da" stroke-width="1.5">
<line x1="273" y1="1172" x2="574" y2="1172"/><line x1="273" y1="1219" x2="574" y2="1219"/><line x1="273" y1="1267" x2="574" y2="1267"/>
</g>
<g font-size="19" fill="#1d3f86">
<text x="337" y="1155" textLength="173" lengthAdjust="spacingAndGlyphs">Increased Efficiency</text>
<text x="337" y="1203" textLength="171" lengthAdjust="spacingAndGlyphs">Reduced Downtime</text>
<text x="337" y="1250" textLength="153" lengthAdjust="spacingAndGlyphs">Improved Quality</text>
<text x="337" y="1297" textLength="189" lengthAdjust="spacingAndGlyphs">Data-Driven Decisions</text>
</g>
<use xlink:href="#gear" x="285" y="1131" width="36" height="36" style="color:#1f4a8e"/>
<path d="M299,1146 l5,6 l10,-16" fill="none" stroke="#ef8a2e" stroke-width="4" stroke-linecap="round"/>
<circle cx="302" cy="1197" r="14" fill="none" stroke="#1f4a8e" stroke-width="3.5"/>
<path d="M296,1193 l6,8 l12,-17" fill="none" stroke="#ef8a2e" stroke-width="4" stroke-linecap="round"/>
<rect x="289" y="1228" width="29" height="34" rx="3" fill="#fff" stroke="#1f4a8e" stroke-width="3.5"/>
<path d="M295,1244 l7,8 l15,-21" fill="none" stroke="#ef8a2e" stroke-width="4" stroke-linecap="round"/>
<rect x="287" y="1275" width="37" height="33" fill="#1f4a8e"/>
<rect x="290" y="1278" width="31" height="25" fill="#fff"/>
<rect x="293" y="1291" width="5" height="12" fill="#ef8a2e"/><rect x="300" y="1286" width="5" height="17" fill="#ef8a2e"/><rect x="307" y="1282" width="5" height="21" fill="#f2b632"/><rect x="314" y="1279" width="5" height="24" fill="#ef8a2e"/>
</svg>
</body></html>
